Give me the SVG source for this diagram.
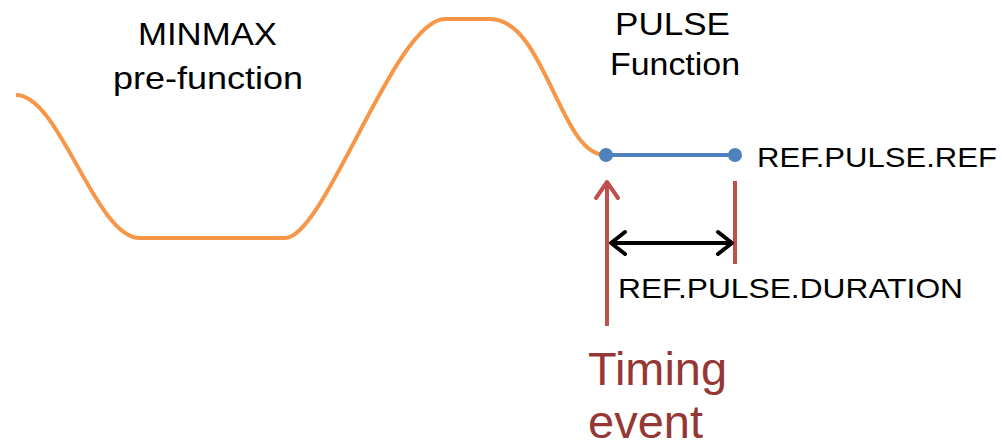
<svg xmlns="http://www.w3.org/2000/svg" width="1002" height="446" viewBox="0 0 1002 446">
<defs>
<style>
.lbl{font-family:"Liberation Sans",Arial,sans-serif;fill:#000}
.big{font-size:32px}
.ref{font-size:28px}
.tim{font-family:"Liberation Sans",Arial,sans-serif;font-size:46px;fill:#953735}
.ar{fill:none;stroke-width:4;stroke-linecap:round;stroke-linejoin:round}
</style>
</defs>
<rect width="1002" height="446" fill="#fff"/>
<g id="curve">
<path d="M16,95 C60,95 95,238 140,238 L285,238 C325,238 395,19 445,19 L490,19 C545,19 560,155 605,155" fill="none" stroke="#f79646" stroke-width="4"/>
</g>
<g id="pulse">
<line x1="606" y1="155" x2="735" y2="155" stroke="#4f81bd" stroke-width="4"/>
<circle cx="606" cy="155" r="7" fill="#4f81bd"/>
<circle cx="735" cy="155" r="7" fill="#4f81bd"/>
</g>
<g id="connectors">
<line x1="607" y1="326" x2="607" y2="182" stroke="#c0504d" stroke-width="4"/>
<polyline class="ar" points="596,198 607,182 618,198" stroke="#c0504d"/>
<line x1="735" y1="181" x2="735" y2="264" stroke="#c0504d" stroke-width="4"/>
<line x1="612" y1="243" x2="731" y2="243" stroke="#000" stroke-width="4"/>
<polyline class="ar" points="625,232 611,243 625,254" stroke="#000"/>
<polyline class="ar" points="718,232 732,243 718,254" stroke="#000"/>
</g>
<g id="labels">
<text class="lbl big" x="138" y="45" textLength="139" lengthAdjust="spacingAndGlyphs">MINMAX</text>
<text class="lbl big" x="113" y="89" textLength="190" lengthAdjust="spacingAndGlyphs">pre-function</text>
<text class="lbl big" x="615" y="35" textLength="115" lengthAdjust="spacingAndGlyphs">PULSE</text>
<text class="lbl big" x="610" y="75" textLength="130" lengthAdjust="spacingAndGlyphs">Function</text>
<text class="lbl ref" x="757" y="167" textLength="240" lengthAdjust="spacingAndGlyphs">REF.PULSE.REF</text>
<text class="lbl ref" x="618" y="298" textLength="345" lengthAdjust="spacingAndGlyphs">REF.PULSE.DURATION</text>
<text class="tim" x="588" y="385" textLength="139" lengthAdjust="spacingAndGlyphs">Timing</text>
<text class="tim" x="588" y="438" textLength="115" lengthAdjust="spacingAndGlyphs">event</text>
</g>
</svg>
